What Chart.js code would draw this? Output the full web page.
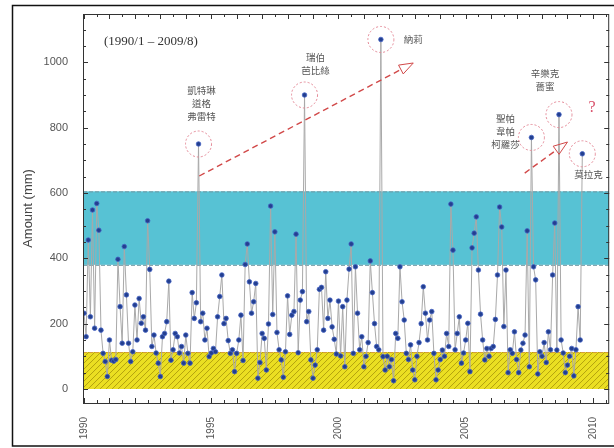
<!DOCTYPE html>
<html><head><meta charset="utf-8">
<script src="https://cdn.jsdelivr.net/npm/chart.js@4.4.1/dist/chart.umd.min.js"></script>
<style>html,body{margin:0;padding:0;background:#fff;}#wrap{width:614px;height:448px;position:relative;overflow:hidden;}</style>
</head><body><div id="wrap"><canvas id="c" width="614" height="448"></canvas></div>
<script>
// Monthly rainfall amount (mm), 1990/1 - 2009/8
const rain1990 = [232,160,456,221,548,186,568,486,180,109,84,38];
const rain1991 = [150,88,85,90,397,252,140,436,288,140,84,114];
const rain1992 = [257,150,277,201,221,180,515,366,130,165,110,79];
const rain1993 = [38,160,170,206,330,88,120,170,160,110,130,79];
const rain1994 = [165,109,79,295,216,264,750,206,232,150,186,99];
const rain1995 = [110,124,114,221,283,349,200,216,148,109,120,53];
const rain1996 = [109,150,226,87,381,444,328,232,267,323,33,81];
const rain1997 = [170,155,58,199,560,228,481,173,120,89,36,114];
const rain1998 = [285,167,226,237,474,111,272,298,900,206,237,89];
const rain1999 = [33,73,120,305,311,180,359,216,272,190,152,107];
const rain2000 = [269,101,252,68,272,367,444,109,374,232,120,160];
const rain2001 = [68,100,142,392,295,200,130,120,1070,99,58,100];
const rain2002 = [68,90,25,170,155,374,267,211,109,90,135,58];
const rain2003 = [28,100,142,200,313,232,150,211,237,109,28,58];
const rain2004 = [90,119,100,170,130,566,425,120,170,221,79,110];
const rain2005 = [150,201,53,432,477,527,364,229,150,89,124,100];
const rain2006 = [124,130,213,349,557,496,191,364,50,120,109,175];
const rain2007 = [90,50,119,140,165,484,68,770,374,334,46,114];
const rain2008 = [100,142,81,175,120,349,508,119,840,150,110,50];
const rain2009 = [73,100,124,40,120,252,150,720];

const xTicks = [1990,1995,2000,2005,2010];
const yTicks = [0,200,400,600,800,1000];
const blueBand = [380,605];
const yellowBand = [0,113];
const periodLabel = '(1990/1 \u2013 2009/8)';
const yTitle = 'Amount (mm)';

// circled typhoon events: index into the monthly series, label lines
const eventIdx = [54,104,140,211,224,235];
const eventText = [
  ['凱特琳','道格','弗雷特'],
  ['瑞伯','芭比絲'],
  ['納莉'],
  ['聖帕','韋帕','柯羅莎'],
  ['辛樂克','薔蜜'],
  ['莫拉克']
];
// trend arrows: [x0,y0,x1,y1] in data units
const arrows = [[1994.53,652,2002.94,998],[2007.32,661,2009.0,756]];

const series = [].concat(rain1990,rain1991,rain1992,rain1993,rain1994,rain1995,rain1996,rain1997,rain1998,rain1999,rain2000,rain2001,rain2002,rain2003,rain2004,rain2005,rain2006,rain2007,rain2008,rain2009);
const points = series.map((v,i)=>({x:1990+i/12, y:v}));

const bgPlugin = {
  id:'bg',
  beforeDraw(chart){
    const c = chart.ctx;
    c.save(); c.fillStyle='#fff'; c.fillRect(0,0,chart.width,chart.height);
    c.strokeStyle='#111'; c.lineWidth=1.5; c.strokeRect(12.5,5.5,640,440.5);
    c.restore();
  },
  beforeDatasetsDraw(chart){
    const c=chart.ctx, a=chart.chartArea, y=chart.scales.y;
    c.save();
    c.beginPath(); c.rect(a.left,a.top,a.right-a.left,a.bottom-a.top); c.clip();
    const bt=y.getPixelForValue(blueBand[1]), bb=y.getPixelForValue(blueBand[0]);
    c.fillStyle='#57c2d4'; c.fillRect(a.left,bt,a.right-a.left,bb-bt);
    const yt=y.getPixelForValue(yellowBand[1]), yb=y.getPixelForValue(yellowBand[0]);
    c.fillStyle='#ebdf22'; c.fillRect(a.left,yt,a.right-a.left,yb-yt);
    c.save(); c.beginPath(); c.rect(a.left,yt,a.right-a.left,yb-yt); c.clip();
    c.strokeStyle='#b3a20f'; c.lineWidth=1;
    const h=yb-yt;
    for(let x=a.left-h; x<a.right+h; x+=6){ c.beginPath(); c.moveTo(x,yb); c.lineTo(x+h,yt); c.stroke(); }
    c.restore();
    c.setLineDash([4,2]); c.lineWidth=1;
    c.strokeStyle='#6d97a2';
    [bt,bb].forEach(p=>{c.beginPath(); c.moveTo(a.left,p+0.5); c.lineTo(a.right,p+0.5); c.stroke();});
    c.strokeStyle='#d49a3a';
    c.beginPath(); c.moveTo(a.left,yt+0.5); c.lineTo(a.right,yt+0.5); c.stroke();
    c.restore();
  },
  afterDatasetsDraw(chart){
    const c=chart.ctx, a=chart.chartArea, xs=chart.scales.x, ys=chart.scales.y;
    c.save();
    c.strokeStyle='#333'; c.lineWidth=1;
    c.strokeRect(a.left+0.5,a.top+0.5,a.right-a.left-1,a.bottom-a.top);
    for(let t=1990; t<=2010.5; t+=0.5){
      const px=Math.round(xs.getPixelForValue(t))+0.5; if(px<a.left||px>a.right) continue;
      const L = (t%1===0)?5:3;
      c.beginPath(); c.moveTo(px,a.bottom); c.lineTo(px,a.bottom-L); c.moveTo(px,a.top); c.lineTo(px,a.top+L); c.stroke();
    }
    for(let v=0; v<=1100; v+=50){
      const py=Math.round(ys.getPixelForValue(v))+0.5;
      const L=(v%200===0)?5:3;
      c.beginPath(); c.moveTo(a.left,py); c.lineTo(a.left+L,py); c.moveTo(a.right,py); c.lineTo(a.right-L,py); c.stroke();
    }
    c.fillStyle='#333'; c.font='13px "Liberation Serif", serif'; c.textAlign='left'; c.textBaseline='middle';
    c.fillText(periodLabel, a.left+21, a.top+28);
    const pix = eventIdx.map(i=>[xs.getPixelForValue(points[i].x), ys.getPixelForValue(points[i].y)]);
    c.strokeStyle='#e58a98'; c.lineWidth=1; c.setLineDash([2,2]);
    pix.forEach(p=>{c.beginPath(); c.arc(p[0],p[1],13,0,Math.PI*2); c.stroke();});
    c.strokeStyle='#d14848'; c.lineWidth=1.4;
    arrows.forEach(ar=>{
      const x0=xs.getPixelForValue(ar[0]), y0=ys.getPixelForValue(ar[1]);
      const x1=xs.getPixelForValue(ar[2]), y1=ys.getPixelForValue(ar[3]);
      const ang=Math.atan2(y1-y0,x1-x0);
      const hx=x1-14*Math.cos(ang), hy=y1-14*Math.sin(ang);
      c.setLineDash([6,4]);
      c.beginPath(); c.moveTo(x0,y0); c.lineTo(hx,hy); c.stroke();
      c.setLineDash([]); c.lineWidth=1;
      const w=5, nx=-Math.sin(ang), ny=Math.cos(ang);
      c.beginPath(); c.moveTo(x1,y1); c.lineTo(hx+nx*w,hy+ny*w); c.lineTo(hx-nx*w,hy-ny*w); c.closePath(); c.stroke();
      c.lineWidth=1.4;
    });
    c.setLineDash([]);
    c.fillStyle='#555'; c.font='9.5px "Noto Sans CJK TC", sans-serif'; c.textBaseline='middle';
    const place=[[3,-54,'center'],[11,-38,'center'],[23,0,'left'],[-26,-19,'center'],[-14,-41,'center'],[-8,21,'left']];
    eventText.forEach((lines,k)=>{
      const p=pix[k], o=place[k]; c.textAlign=o[2];
      lines.forEach((s,j)=>c.fillText(s,p[0]+o[0],p[1]+o[1]+j*13));
    });
    c.fillStyle='#d9506a'; c.font='16px "Liberation Serif", serif'; c.textAlign='center';
    c.fillText('?', pix[4][0]+33, pix[4][1]-7);
    c.restore();
  }
};

new Chart(document.getElementById('c'),{
  type:'line',
  data:{datasets:[{data:points,borderColor:'#a9a9a9',borderWidth:1,tension:0,fill:false,
    pointRadius:2.3,pointBackgroundColor:'#233f8f',pointBorderColor:'#4563c4',pointBorderWidth:0.8}]},
  options:{responsive:false,animation:false,devicePixelRatio:1,
    layout:{padding:{left:0,top:14,right:2,bottom:0}},
    plugins:{legend:{display:false},tooltip:{enabled:false}},
    scales:{
      x:{type:'linear',min:1989.96,max:2010.64,grid:{display:false},border:{display:false},
        afterBuildTicks:s=>{s.ticks=xTicks.map(v=>({value:v}));},
        afterFit:s=>{s.height=45;},
        ticks:{autoSkip:false,minRotation:90,maxRotation:90,padding:6,color:'#555',font:{size:10,family:'Arial, "Liberation Sans"'},callback:v=>String(v)}},
      y:{min:-43,max:1148,grid:{display:false},border:{display:false},
        afterBuildTicks:s=>{s.ticks=yTicks.map(v=>({value:v}));},
        afterFit:s=>{s.width=83;},
        ticks:{autoSkip:false,padding:7,color:'#555',font:{size:11,family:'Arial, "Liberation Sans"'},callback:v=>String(v)},
        title:{display:true,text:yTitle,color:'#444',font:{size:13,family:'Arial, "Liberation Sans"'},padding:{top:21,bottom:0}}}
    }},
  plugins:[bgPlugin]
});
</script></body></html>
